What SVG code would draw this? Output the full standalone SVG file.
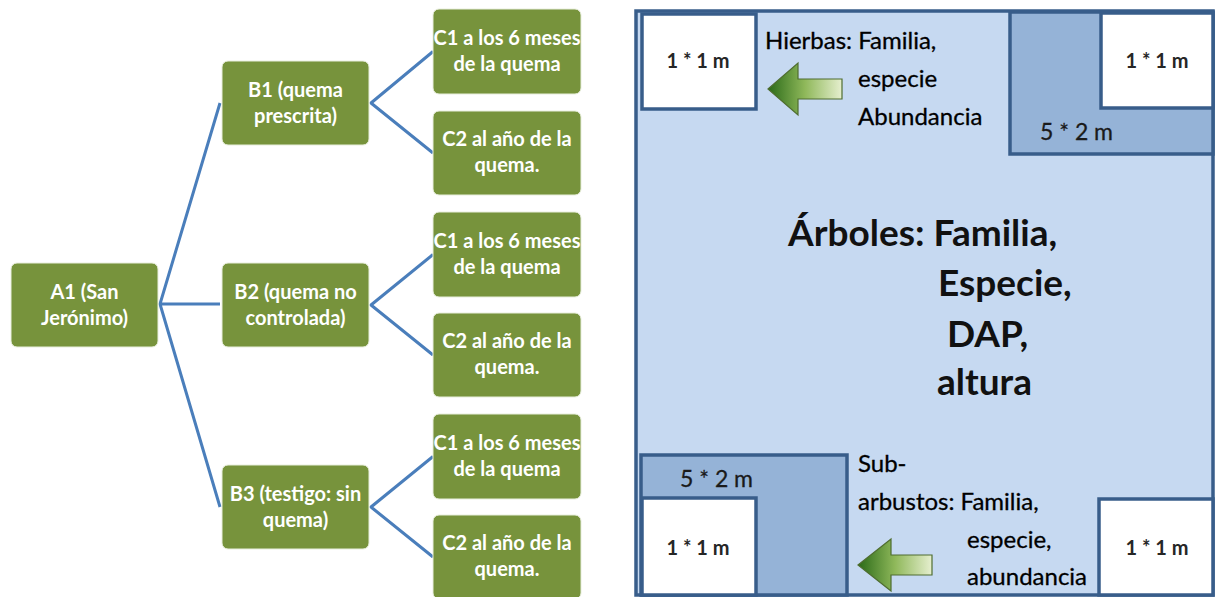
<svg xmlns="http://www.w3.org/2000/svg" width="1215" height="597" viewBox="0 0 1215 597">
<style>
.box{fill:#77933c;stroke:#e8eedc;stroke-width:1}
.bt{font-family:Lato,"Liberation Sans",sans-serif;font-weight:bold;font-size:20px;fill:#ffffff;text-anchor:middle}
.con{fill:none;stroke:#4a7ebb;stroke-width:3;stroke-linejoin:round}
.plot{fill:#c6d9f1;stroke:#385d8a;stroke-width:3.5}
.sub{fill:#95b3d7;stroke:#385d8a;stroke-width:3.5}
.sq{fill:#ffffff;stroke:#385d8a;stroke-width:3.5}
.lab{font-family:Lato,"Liberation Sans",sans-serif;font-size:24px;fill:#000000;stroke:#000000;stroke-width:0.3}
.sm{font-family:Lato,"Liberation Sans",sans-serif;font-weight:bold;font-size:20px;fill:#262626;text-anchor:middle}
.md{font-family:Lato,"Liberation Sans",sans-serif;font-size:23px;fill:#1a1a1a;stroke:#1a1a1a;stroke-width:0.3}
.big{font-family:Lato,"Liberation Sans",sans-serif;font-weight:bold;font-size:37px;fill:#111111}
.arr{fill:url(#g);stroke:#4f6d30;stroke-width:1.2}
</style>
<defs>
<linearGradient id="g" x1="0" y1="0" x2="1" y2="0">
<stop offset="0" stop-color="#2a6a18"/>
<stop offset="0.5" stop-color="#8fb85a"/>
<stop offset="1" stop-color="#e6efcf"/>
</linearGradient>
</defs>

<g id="connectors">
<path class="con" d="M220,103 L160,304 L220,507 M160,304 L220,304"/>
<path class="con" d="M433,51.5 L371,103 L433,153"/>
<path class="con" d="M433,254.5 L371,305 L433,355"/>
<path class="con" d="M433,456.5 L371,507 L433,557"/>
</g>

<g id="A1"><rect class="box" x="11" y="263" width="147" height="84" rx="6"/>
<text class="bt" x="84.5" y="299">A1 (San</text><text class="bt" x="84.5" y="325">Jerónimo)</text></g>

<g id="B1"><rect class="box" x="222" y="61" width="147" height="84" rx="6"/>
<text class="bt" x="295.5" y="97">B1 (quema</text><text class="bt" x="295.5" y="123">prescrita)</text></g>
<g id="B2"><rect class="box" x="222" y="263" width="147" height="84" rx="6"/>
<text class="bt" x="295.5" y="299">B2 (quema no</text><text class="bt" x="295.5" y="325">controlada)</text></g>
<g id="B3"><rect class="box" x="222" y="465" width="147" height="84" rx="6"/>
<text class="bt" x="295.5" y="501">B3 (testigo: sin</text><text class="bt" x="295.5" y="527">quema)</text></g>

<g id="C1a"><rect class="box" x="433" y="9" width="148" height="85" rx="6"/>
<text class="bt" x="507" y="45">C1 a los 6 meses</text><text class="bt" x="507" y="71">de la quema</text></g>
<g id="C2a"><rect class="box" x="433" y="111" width="148" height="84" rx="6"/>
<text class="bt" x="507" y="146">C2 al año de la</text><text class="bt" x="507" y="172">quema.</text></g>
<g id="C1b"><rect class="box" x="433" y="212" width="148" height="85" rx="6"/>
<text class="bt" x="507" y="248">C1 a los 6 meses</text><text class="bt" x="507" y="274">de la quema</text></g>
<g id="C2b"><rect class="box" x="433" y="313" width="148" height="84" rx="6"/>
<text class="bt" x="507" y="348">C2 al año de la</text><text class="bt" x="507" y="374">quema.</text></g>
<g id="C1c"><rect class="box" x="433" y="414" width="148" height="85" rx="6"/>
<text class="bt" x="507" y="450">C1 a los 6 meses</text><text class="bt" x="507" y="476">de la quema</text></g>
<g id="C2c"><rect class="box" x="433" y="515" width="148" height="84" rx="6"/>
<text class="bt" x="507" y="550">C2 al año de la</text><text class="bt" x="507" y="576">quema.</text></g>

<g id="plot">
<rect class="plot" x="636" y="11" width="577" height="584"/>
<rect class="sub" x="1010" y="12" width="203" height="142"/>
<rect class="sq" x="1101" y="13" width="112" height="95"/>
<rect class="sq" x="642" y="14" width="114" height="95"/>
<rect class="sub" x="641" y="455" width="206" height="140"/>
<rect class="sq" x="642" y="498" width="114" height="97"/>
<rect class="sq" x="1099" y="499" width="114" height="96"/>
<text class="sm" x="698" y="68">1 * 1 m</text>
<text class="sm" x="1157" y="68">1 * 1 m</text>
<text class="sm" x="698" y="555">1 * 1 m</text>
<text class="sm" x="1157" y="555">1 * 1 m</text>
<text class="md" x="1040" y="140">5 * 2 m</text>
<text class="md" x="680" y="487">5 * 2 m</text>
<text class="lab" x="765" y="49">Hierbas: Familia,</text>
<text class="lab" x="858" y="87">especie</text>
<text class="lab" x="858" y="125">Abundancia</text>
<text class="lab" x="858" y="472">Sub-</text>
<text class="lab" x="858" y="510">arbustos: Familia,</text>
<text class="lab" x="967" y="548">especie,</text>
<text class="lab" x="967" y="585">abundancia</text>
<text class="big" x="788" y="246">Árboles: Familia,</text>
<text class="big" x="938" y="296">Especie,</text>
<text class="big" x="947" y="347">DAP,</text>
<text class="big" x="937" y="395">altura</text>
<path class="arr" d="M768,89 L798,63 L798,79 L842,79 L842,99 L798,99 L798,115 Z"/>
<path class="arr" d="M858,565 L891,539 L891,555 L932,555 L932,575 L891,575 L891,591 Z"/>
</g>
</svg>
